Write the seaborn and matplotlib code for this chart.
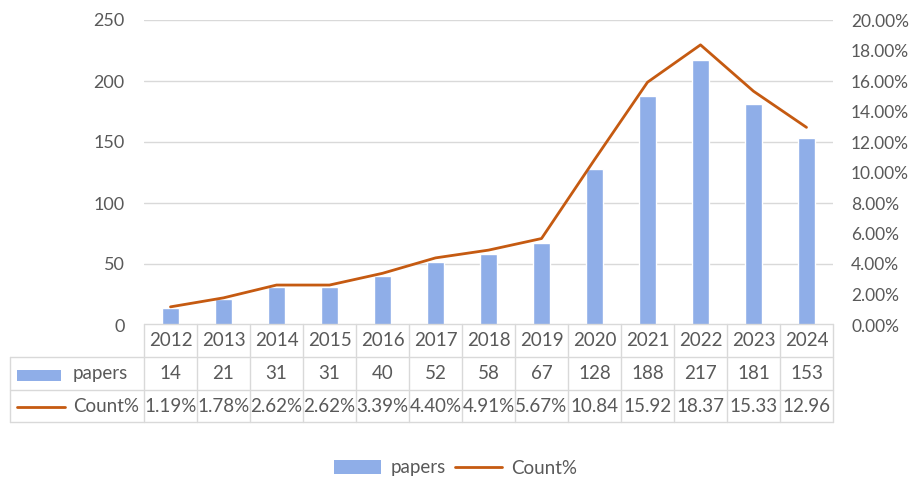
import matplotlib
matplotlib.use("Agg")
import matplotlib.pyplot as plt
import seaborn as sns
import pandas as pd
import numpy as np
from matplotlib.transforms import blended_transform_factory
from matplotlib.patches import Rectangle, Patch
from matplotlib.lines import Line2D
from matplotlib.ticker import FuncFormatter

# Publications per year and their share of the total
years = ["2012", "2013", "2014", "2015", "2016", "2017", "2018",
         "2019", "2020", "2021", "2022", "2023", "2024"]
papers = [14, 21, 31, 31, 40, 52, 58, 67, 128, 188, 217, 181, 153]
count_pct = [1.19, 1.78, 2.62, 2.62, 3.39, 4.40, 4.91, 5.67,
             10.84, 15.92, 18.37, 15.33, 12.96]
pct_labels = ["1.19%", "1.78%", "2.62%", "2.62%", "3.39%", "4.40%", "4.91%",
              "5.67%", "10.84", "15.92", "18.37", "15.33", "12.96"]

BAR = "#8FAEE8"
LINE = "#C55A11"
TXT = "#595959"
GRID = "#D9D9D9"
FS = 13.5
FS_AX = 13

sns.set_theme(style="white")
plt.rcParams['font.family'] = ['Lato', 'DejaVu Sans']

W, H = 912, 479
fig = plt.figure(figsize=(W / 100, H / 100), dpi=100)

def fy(px):
    return 1 - px / H

def fx(px):
    return px / W

ax = fig.add_axes([fx(144), fy(325), fx(689), 305 / H])
df = pd.DataFrame({"year": years, "papers": papers})
sns.barplot(data=df, x="year", y="papers", ax=ax, color=BAR,
            saturation=1, width=0.32)
ax.set_xlim(-0.5, len(years) - 0.5)
ax.set_ylim(0, 250)
ax.set_yticks(range(0, 251, 50))
ax.yaxis.grid(True, color=GRID, lw=1)
ax.set_axisbelow(True)
ax.set_xlabel("")
ax.set_ylabel("")
ax.set_xticks([])
for s in ax.spines.values():
    s.set_visible(False)
ax.tick_params(axis="y", length=0, pad=14, labelsize=FS_AX, labelcolor=TXT)

ax2 = ax.twinx()
sns.lineplot(x=np.arange(len(years)), y=np.array(count_pct) / 100, ax=ax2,
             color=LINE, lw=2)
ax2.set_ylim(0, 0.2)
ax2.set_yticks(np.arange(0, 0.2001, 0.02))
ax2.yaxis.set_major_formatter(FuncFormatter(lambda v, p: f"{v:.2%}"))
ax2.set_ylabel("")
ax2.grid(False)
for s in ax2.spines.values():
    s.set_visible(False)
ax2.tick_params(axis="y", length=0, pad=13, labelsize=12.5, labelcolor=TXT)

# Data table under the plot
tr = blended_transform_factory(ax.transData, fig.transFigure)
rows = [324, 357, 390, 422]
n = len(years)
lc = dict(color=GRID, lw=1)

fig.add_artist(Line2D([-0.5, n - 0.5], [fy(rows[0])] * 2, transform=tr, **lc))
for r in rows[1:]:
    fig.add_artist(Line2D([fx(10), fx(833)], [fy(r)] * 2,
                          transform=fig.transFigure, **lc))
fig.add_artist(Line2D([fx(10), fx(10)], [fy(rows[1]), fy(rows[3])],
                      transform=fig.transFigure, **lc))
for k in range(n + 1):
    fig.add_artist(Line2D([k - 0.5, k - 0.5], [fy(rows[0]), fy(rows[3])],
                          transform=tr, **lc))

for i in range(n):
    fig.text(i, fy((rows[0] + rows[1]) / 2), years[i], transform=tr,
             ha="center", va="center", fontsize=FS, color=TXT)
    fig.text(i, fy((rows[1] + rows[2]) / 2), str(papers[i]), transform=tr,
             ha="center", va="center", fontsize=FS, color=TXT)
    fig.text(i, fy((rows[2] + rows[3]) / 2), pct_labels[i], transform=tr,
             ha="center", va="center", fontsize=FS, color=TXT)

fig.add_artist(Rectangle((fx(17), fy(381)), fx(44), 11 / H,
                         transform=fig.transFigure, color=BAR, lw=0))
fig.add_artist(Line2D([fx(17), fx(65)], [fy(406.5)] * 2,
                      transform=fig.transFigure, color=LINE, lw=2))
fig.text(fx(73), fy((rows[1] + rows[2]) / 2), "papers", ha="left",
         va="center", fontsize=FS, color=TXT)
fig.text(fx(73), fy((rows[2] + rows[3]) / 2), "Count%", ha="left",
         va="center", fontsize=FS, color=TXT)

handles = [Patch(facecolor=BAR, edgecolor="none", label="papers"),
           Line2D([], [], color=LINE, lw=2, label="Count%")]
fig.legend(handles=handles, loc="center", bbox_to_anchor=(0.5, fy(468)),
           ncol=2, frameon=False, fontsize=FS, labelcolor=TXT,
           handlelength=2.5, handleheight=0.85, handletextpad=0.5,
           columnspacing=0.5, borderpad=0)

fig.savefig("out.png", dpi=100)
